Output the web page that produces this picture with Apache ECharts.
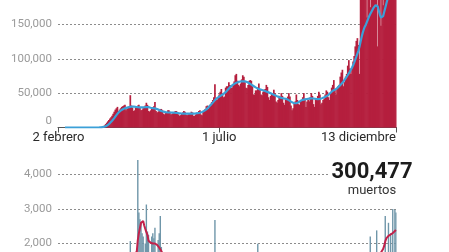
<!DOCTYPE html>
<html><head><meta charset="utf-8">
<script src="https://cdn.jsdelivr.net/npm/echarts@6/dist/echarts.min.js"></script>
<style>html,body{margin:0;padding:0;background:#fff;overflow:hidden;width:449px;height:252px}#c{width:449px;height:320px}</style>
</head><body><div id="c"></div>
<script>
// Daily series from 2 Feb 2020 to 13 Dec 2020 (316 days)
const startDate = '2020-02-02';
const tickDates = ['2020-02-02', '2020-07-01', '2020-12-13'];
const tickLabels = ['2 febrero', '1 julio', '13 diciembre'];
const totalDeaths = '300,477';
const totalLabel = 'muertos';

// New cases per day, in thousands
const casesK = [
0,0,0,0,0,0,0, 0,0,0,0,0,0,0, 0,0,0,0,0,0,0, 0,0,0,0,0,0,0,
0,0,0,0,0.1,0.1,0.1,
0.1,0.2,0.3,0.4,0.6,0.9,1.5,
2,3,5,7,9,11,13,
15,17,20,23,26,28,30,
24,26,28,30,31,32,33,
25,27,29,31,47,32,29,
24,25,29,31,32,33,30,
25,26,28,30,32,36,33,
24,23,25,27,29,31,37,
24,22,23,25,27,27,25,
20,19,21,22,25,25,23,
19,20,21,22,24,24,22,
19,17,18,20,22,24,23,
19,18,19,20,21,23,22,
17,17,19,21,21,24,25,
19,18,23,25,27,31,32,
27,30,34,37,40,44,63,
40,40,44,48,52,56,48,
44,45,58,60,60,66,62,
58,58,62,67,76,78,68,
62,60,64,70,76,74,66,
58,57,62,68,69,68,60,
48,48,54,54,58,64,56,
48,47,52,55,56,62,59,
44,40,46,50,50,55,50,
38,36,40,46,45,50,46,
36,33,41,40,45,50,45,
32,25,28,35,38,48,40,
34,33,38,40,44,50,42,
30,38,40,38,44,50,46,
34,30,40,40,46,52,48,
34,36,40,42,48,54,52,
44,40,50,58,62,69,56,
48,58,60,62,74,80,84,
60,66,74,78,90,98,86,
78,86,96,104,118,126,130,
120,78,186,190,192,188,194,
192,160,195,196,175,198,200,
188,192,198,205,118,196,190,
148,188,178,202,210,212,186,
190,200,218,222,232,228,205,
195
];

// 7-day average of new cases, in thousands
const casesAvgK = [
null,null,null,null,null,null,
0,0,0,0,0,0,0,0,0,0,0,0,0,0,0,0,0,0,0,0,0,0,0,0,0,0,0,0,0,0,0,0,
0.1,0.2,0.3,0.5,
0.8,1.2,1.8,2.7,3.7,5.0,6.4,
8.0,9.8,11.7,13.7,15.8,18,20,
21.8,23.3,24.6,25.7,26.6,27.4,28.0,
28.5,28.9,29.3,29.6,30.2,30.5,30.6,
30.5,30.3,30.0,29.8,29.6,29.4,29.3,
29.3,29.3,29.4,29.5,29.6,29.8,29.8,
29.6,29.2,28.8,28.4,28.1,27.9,27.8,
27.4,26.8,26.0,25.3,24.6,24.0,23.5,
23.0,22.6,22.3,22.1,22.0,21.9,21.8,
21.7,21.7,21.6,21.5,21.4,21.2,21.0,
20.8,20.6,20.5,20.4,20.3,20.3,20.3,
20.3,20.3,20.2,20.2,20.2,20.3,20.3,
20.3,20.4,20.5,20.6,20.8,21.1,21.5,
22.0,22.6,23.3,24.2,25.2,26.4,27.8,
29.3,30.9,32.6,34.4,36.2,38.0,39.8,
41.4,42.8,44.0,45.0,46.0,46.9,47.8,
48.8,50.0,51.4,53.0,54.8,56.6,58.3,
59.8,61.2,62.4,63.5,64.4,65.2,65.8,
66.3,66.7,67.0,67.2,67.3,67.3,67.1,
66.7,66.1,65.3,64.4,63.4,62.4,61.4,
60.4,59.4,58.4,57.5,56.7,56.0,55.4,
54.9,54.5,54.0,53.5,53.0,52.4,51.8,
51.1,50.4,49.7,49.0,48.3,47.6,46.9,
46.2,45.5,44.8,44.2,43.6,43.1,42.7,
42.4,42.1,41.8,41.3,40.6,39.8,38.8,
37.7,36.6,35.8,35.3,35.1,35.3,35.9,
36.8,37.8,38.8,39.6,40.2,40.6,40.9,
41.2,41.5,41.8,42.1,42.3,42.4,42.4,
42.2,41.9,41.6,41.4,41.3,41.4,41.7,
42.1,42.6,43.2,43.9,44.6,45.4,46.4,
47.6,49.0,50.5,52.0,53.4,54.6,55.0,
55.5,57.0,58.6,60.2,61.8,63.4,65.0,
67.0,69.2,71.6,74.0,76.4,78.8,81.4,
84.2,87.2,90.6,94.4,98.6,103,107.5,
112,118,125,132,138,143,147,
150,154,158,162,165,168,171,
174,176,178,180,176,170,164,
160,158,162,168,174,180,186,
190,194,198,202,205,208,210,
212
];

// Deaths per day
const deaths = [
0,0,0,0,0,0,0, 0,0,0,0,0,0,0, 0,0,0,0,0,0,0, 0,0,0,0,0,0,0,
0,1,1,2,2,1,2,
4,4,6,8,8,10,12,
15,20,25,30,45,55,60,
110,130,180,220,250,350,440,
300,420,590,900,950,1100,1300,
1150,1250,1300,1450,2070,1700,1600,
1500,1550,1700,1750,4420,2900,2700,
2600,2300,2200,1750,2000,3130,2350,
2250,1600,1450,2200,2300,2150,2460,
1500,1300,2100,2300,2800,1900,1700,
1150,1050,1500,1650,1700,1600,1400,
900,950,1500,1550,1400,1300,1150,
700,600,800,1450,1250,1200,1000,
650,750,1000,1050,1050,950,700,
450,650,900,1000,900,850,700,
350,400,800,750,800,700,600,
300,400,750,850,700,650,2680,
300,350,800,700,650,700,300,
250,350,900,850,950,850,700,
400,450,900,950,950,1000,850,
450,500,1000,1100,1100,1150,1000,
500,600,1250,1400,1200,1300,1100,
500,500,1200,1350,1990,1250,1050,
550,500,1200,1350,1100,1200,1000,
450,500,1250,1200,1100,1050,900,
400,400,1200,1150,1100,1000,900,
400,450,1050,1050,950,1000,800,
400,300,500,1150,900,1000,750,
400,400,1100,1000,900,950,750,
300,400,900,1050,950,900,750,
300,350,900,1000,900,850,700,
350,400,700,900,950,900,700,
400,400,750,850,900,900,750,
400,450,900,1100,850,900,850,
450,500,950,1050,1000,1050,900,
400,550,1150,1100,1200,1250,1050,
500,750,1450,1450,1250,1400,1300,
600,850,1650,1700,2200,1700,1400,
850,1000,1700,2380,1300,1200,1100,
900,1300,1700,1650,2800,1700,1600,
2600,1500,2300,1600,3000,1700,2980,
2900
];

// 7-day average of deaths
const deathsAvg = [
null,null,null,null,null,null,
0,0,0,0,0,0,0,0,0,0,0,0,0,0,0,0,0,0,0,0,0,0,0,0,0,
1,1,1,2,2,3,4,5,6,7,8,
10,12,15,18,23,29,36,
50,65,85,110,140,180,230,
260,300,360,450,550,650,780,
900,1020,1170,1320,1460,1560,1650,
1700,1720,1730,1750,2100,2300,2450,
2600,2640,2650,2520,2420,2330,2250,
2080,2040,2020,2010,2000,2000,2000,
1980,1960,1930,1880,1830,1780,1720,
1680,1640,1600,1570,1540,1510,1480,
1450,1420,1390,1360,1330,1300,1270,
1230,1200,1160,1130,1100,1070,1040,
1010,980,950,920,900,880,860,
840,820,800,780,760,740,720,
700,680,660,640,630,620,610,
600,590,590,590,590,600,880,
880,870,870,860,860,850,560,
560,560,570,580,590,600,610,
630,650,670,690,710,730,750,
770,790,810,830,850,870,890,
920,950,980,1010,1040,1070,1080,
1090,1100,1100,1090,1080,1080,1070,
1060,1050,1040,1030,1020,1000,990,
980,970,960,950,940,930,920,
910,900,890,880,870,860,850,
840,830,820,810,800,790,780,
770,760,750,745,745,745,750,
760,770,770,765,760,755,750,
745,740,735,730,725,720,715,
710,705,700,700,700,700,700,
700,700,705,710,715,720,720,
720,720,725,730,735,740,745,
750,760,770,780,790,800,810,
820,830,840,850,860,870,880,
890,910,930,950,970,990,1010,
1030,1060,1090,1120,1150,1180,1210,
1240,1270,1310,1360,1410,1460,1510,
1550,1590,1630,1670,1700,1700,1700,
1740,1790,1840,1930,2060,2150,2200,
2220,2240,2260,2280,2300,2330,2360,
2390
];

const categories = [];
const t0 = new Date(startDate + 'T00:00:00Z').getTime();
for (let i = 0; i < casesK.length; i++) {
  categories.push(new Date(t0 + i * 86400000).toISOString().slice(0, 10));
}

const FONT = 'Roboto';
const gridLine = { show: true, showMinLine: false, showMaxLine: false,
  lineStyle: { color: '#8c8c8c', width: 1, type: [2, 2] } };
const yLabel = { color: '#9a9a9a', fontSize: 11.5, fontFamily: FONT, margin: 6, showMaxLabel: false };
const fmt = v => v.toLocaleString('en-US');

const chart = echarts.init(document.getElementById('c'), null, { renderer: 'canvas', width: 449, height: 320 });
chart.setOption({
  animation: false,
  backgroundColor: '#fff',
  grid: [
    { left: 58, right: 52.5, top: 0, height: 127.5 },
    { left: 58, right: 52.5, top: 146.9, height: 165.6 }
  ],
  xAxis: [
    { type: 'category', gridIndex: 0, data: categories, boundaryGap: true,
      axisLine: { show: true, lineStyle: { color: '#555', width: 1 } },
      axisTick: { show: true, alignWithLabel: true, length: 5,
        interval: (i, v) => tickDates.includes(v), lineStyle: { color: '#555' } },
      axisLabel: { interval: (i, v) => tickDates.includes(v),
        formatter: v => tickLabels[tickDates.indexOf(v)],
        color: '#2a2a2a', fontSize: 13, fontFamily: FONT, margin: 4,
        alignMinLabel: 'center', alignMaxLabel: 'right' },
      splitLine: { show: false } },
    { type: 'category', gridIndex: 1, data: categories, boundaryGap: true, show: false }
  ],
  yAxis: [
    { type: 'value', gridIndex: 0, min: 0, max: 185.5, interval: 50,
      axisLine: { show: false }, axisTick: { show: false }, splitLine: gridLine,
      axisLabel: Object.assign({}, yLabel, {
        formatter: v => v === 0 ? '{z|0}' : fmt(v * 1000),
        rich: { z: { color: '#9a9a9a', fontSize: 11.5, fontFamily: FONT, padding: [0, 0, 13, 0] } } }) },
    { type: 'value', gridIndex: 1, min: 0, max: 4800, interval: 1000,
      axisLine: { show: false }, axisTick: { show: false }, splitLine: gridLine,
      axisLabel: Object.assign({}, yLabel, { formatter: v => fmt(v) }) }
  ],
  series: [
    { type: 'bar', xAxisIndex: 0, yAxisIndex: 0, data: casesK, barWidth: 1.7,
      itemStyle: { color: '#b51f3e' }, clip: true, z: 2 },
    { type: 'line', xAxisIndex: 0, yAxisIndex: 0, data: casesAvgK, showSymbol: false,
      lineStyle: { color: '#3ba0d8', width: 2.2 }, itemStyle: { color: '#3ba0d8' }, clip: true, z: 3 },
    { type: 'bar', xAxisIndex: 1, yAxisIndex: 1, data: deaths, barWidth: 1.4,
      itemStyle: { color: '#6f96a9' }, clip: true, z: 2 },
    { type: 'line', xAxisIndex: 1, yAxisIndex: 1, data: deathsAvg, showSymbol: false,
      lineStyle: { color: '#c2214a', width: 2 }, itemStyle: { color: '#c2214a' }, clip: true, z: 3 }
  ],
  graphic: [
    { type: 'text', x: 372, y: 172.5, z: 100,
      style: { text: totalDeaths, font: 'bold 22px Roboto', fill: '#1c1c1c',
        align: 'center', verticalAlign: 'middle', textAlign: 'center', textVerticalAlign: 'middle',
        backgroundColor: '#fff', padding: [0, 2] } },
    { type: 'text', x: 372, y: 191, z: 100,
      style: { text: totalLabel, font: '13px Roboto', fill: '#333',
        align: 'center', verticalAlign: 'middle', textAlign: 'center', textVerticalAlign: 'middle' } }
  ]
});
</script>
</body></html>
